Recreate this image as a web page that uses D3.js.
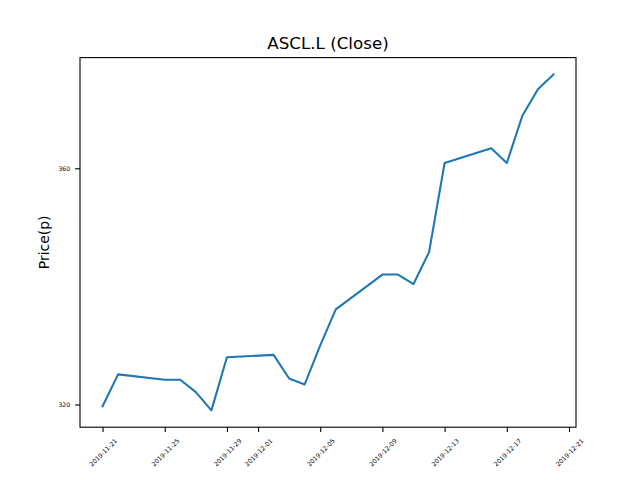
<!DOCTYPE html>
<html>
<head>
<meta charset="utf-8">
<script src="https://cdn.jsdelivr.net/npm/d3@7"></script>
<style>
  body { margin: 0; background: #fff; }
  svg { display: block; font-family: "DejaVu Sans", sans-serif; }
</style>
</head>
<body>
<div id="chart"></div>
<script>
// ASCL.L closing prices (pence), trading days only
const dates = [
  "2019-11-21", "2019-11-22", "2019-11-25", "2019-11-26", "2019-11-27",
  "2019-11-28", "2019-11-29", "2019-12-02", "2019-12-03", "2019-12-04",
  "2019-12-05", "2019-12-06", "2019-12-09", "2019-12-10", "2019-12-11",
  "2019-12-12", "2019-12-13", "2019-12-16", "2019-12-17", "2019-12-18",
  "2019-12-19", "2019-12-20",
];
const closes = [
  319.7, 325.1, 324.2, 324.2, 322.1,
  319.0, 328.0, 328.4, 324.4, 323.4,
  330.0, 336.1, 342.0, 342.0, 340.4,
  345.8, 360.9, 363.4, 360.9, 368.9,
  373.4, 375.9,
];
const xTickLabels = [
  "2019-11-21", "2019-11-25", "2019-11-29", "2019-12-01", "2019-12-05",
  "2019-12-09", "2019-12-13", "2019-12-17", "2019-12-21",
];
const yTickValues = [320, 360];

const width = 640;
const height = 480;
const margin = { top: 57.6, right: 64, bottom: 52.8, left: 80 };
const tickFont = 6.2;
const parse = d3.utcParse("%Y-%m-%d");

const points = dates.map((d, i) => ({ date: parse(d), close: closes[i] }));

// matplotlib-style 5% padding on both axes
const xExtent = d3.extent(points, (d) => d.date);
const xPad = (xExtent[1] - xExtent[0]) * 0.05;
const yExtent = d3.extent(points, (d) => d.close);
const yPad = (yExtent[1] - yExtent[0]) * 0.05;

const x = d3
  .scaleUtc()
  .domain([new Date(+xExtent[0] - xPad), new Date(+xExtent[1] + xPad)])
  .range([margin.left, width - margin.right]);

const y = d3
  .scaleLinear()
  .domain([yExtent[0] - yPad, yExtent[1] + yPad])
  .range([height - margin.bottom, margin.top]);

const svg = d3
  .select("#chart")
  .append("svg")
  .attr("width", width)
  .attr("height", height);

const line = d3
  .line()
  .x((d) => x(d.date))
  .y((d) => y(d.close));

svg
  .append("path")
  .datum(points)
  .attr("fill", "none")
  .attr("stroke", "#1f77b4")
  .attr("stroke-width", 2.08)
  .attr("stroke-linejoin", "round")
  .attr("stroke-linecap", "square")
  .attr("d", line);

// x axis
const xAxis = svg
  .append("g")
  .attr("transform", `translate(0,${height - margin.bottom})`)
  .call(
    d3
      .axisBottom(x)
      .tickValues(xTickLabels.map(parse))
      .tickSize(4.9)
      .tickFormat(d3.utcFormat("%Y-%m-%d")),
  );
xAxis.select(".domain").remove();
xAxis.selectAll(".tick line").attr("stroke", "#000").attr("stroke-width", 1.1);
xAxis
  .selectAll(".tick text")
  .attr("font-size", tickFont)
  .attr("fill", "#000")
  .attr("font-family", "DejaVu Sans")
  .attr("dy", null)
  .attr("y", null)
  .attr("text-anchor", "middle")
  .attr("dominant-baseline", "central")
  .each(function () {
    const len = this.getComputedTextLength();
    const half = ((len + tickFont * 1.16) * Math.SQRT1_2) / 2;
    d3.select(this).attr("transform", `translate(0,${9.8 + half}) rotate(-45)`);
  });

// y axis
const yAxis = svg
  .append("g")
  .attr("transform", `translate(${margin.left},0)`)
  .call(d3.axisLeft(y).tickValues(yTickValues).tickSize(4.9).tickPadding(4.9));
yAxis.select(".domain").remove();
yAxis.selectAll(".tick line").attr("stroke", "#000").attr("stroke-width", 1.1);
yAxis
  .selectAll(".tick text")
  .attr("font-size", tickFont)
  .attr("fill", "#000")
  .attr("font-family", "DejaVu Sans");

// frame
svg
  .append("rect")
  .attr("x", margin.left)
  .attr("y", margin.top)
  .attr("width", width - margin.left - margin.right)
  .attr("height", height - margin.top - margin.bottom)
  .attr("fill", "none")
  .attr("stroke", "#000")
  .attr("stroke-width", 1.1);

svg
  .append("text")
  .attr("x", (margin.left + width - margin.right) / 2)
  .attr("y", margin.top - 8.3)
  .attr("text-anchor", "middle")
  .attr("font-size", 16.7)
  .text("ASCL.L (Close)");

svg
  .append("text")
  .attr("transform", `translate(49,${(margin.top + height - margin.bottom) / 2}) rotate(-90)`)
  .attr("text-anchor", "middle")
  .attr("font-size", 13.9)
  .text("Price(p)");
</script>
</body>
</html>
